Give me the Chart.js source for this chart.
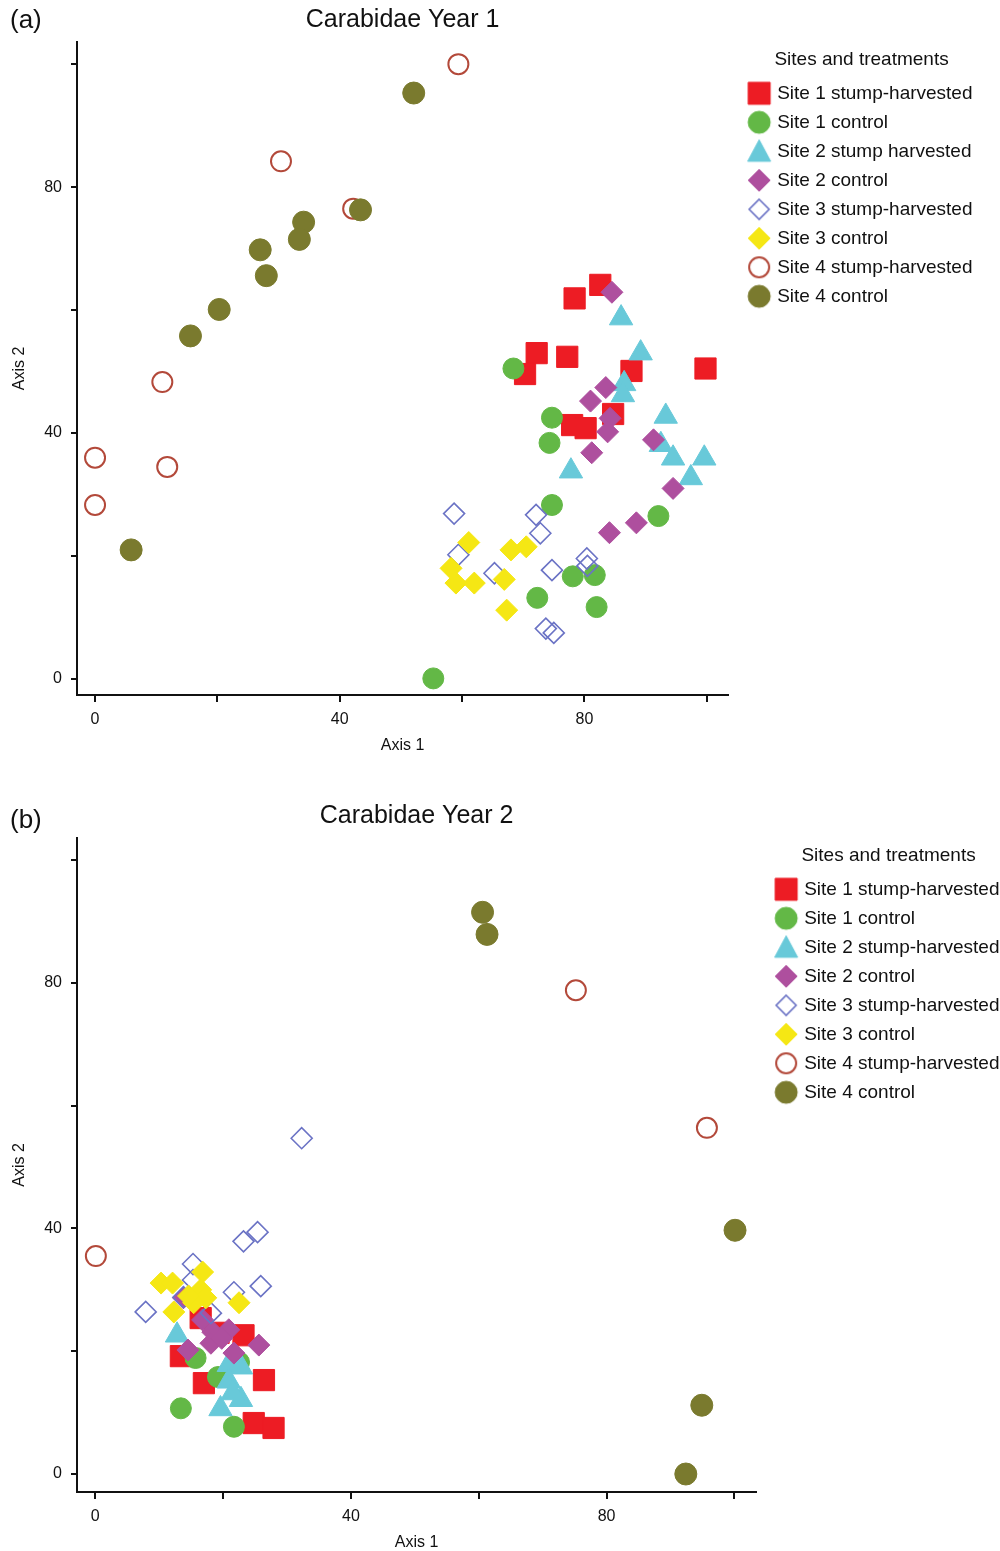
<!DOCTYPE html>
<html>
<head>
<meta charset="utf-8">
<title>Carabidae ordination</title>
<script src="https://cdn.jsdelivr.net/npm/chart.js@4.4.1/dist/chart.umd.min.js"></script>
<style>
  html, body { margin: 0; padding: 0; background: #fff; }
  #wrap { position: relative; width: 1000px; height: 1551px; overflow: hidden; }
  canvas { position: absolute; left: 0; }
  #year1 { top: 0; }
  #year2 { top: 772px; }
</style>
</head>
<body>
<div id="wrap">
  <canvas id="year1" width="1000" height="772"></canvas>
  <canvas id="year2" width="1000" height="779"></canvas>
</div>
<script>
// ---- Series names (legend order) ----
const seriesYear1 = [
  'Site 1 stump-harvested', 'Site 1 control', 'Site 2 stump harvested', 'Site 2 control',
  'Site 3 stump-harvested', 'Site 3 control', 'Site 4 stump-harvested', 'Site 4 control'
];
const seriesYear2 = [
  'Site 1 stump-harvested', 'Site 1 control', 'Site 2 stump-harvested', 'Site 2 control',
  'Site 3 stump-harvested', 'Site 3 control', 'Site 4 stump-harvested', 'Site 4 control'
];

// ---- Axis ticks ----
const tickStep = 20;
const labelledTicks = [0, 40, 80];

// ---- Year 1 ordination scores [Axis 1, Axis 2] ----
const y1Site1Harvested = [[82.6,64.1],[78.4,61.9],[72.2,53.0],[77.2,52.4],[70.3,49.6],[87.7,50.1],[99.8,50.5],[84.7,43.1],[78.0,41.3],[80.2,40.8]];
const y1Site1Control   = [[68.4,50.5],[74.7,42.5],[74.3,38.4],[74.7,28.3],[92.1,26.5],[78.1,16.7],[81.7,16.9],[72.3,13.2],[82.0,11.7],[55.3,0.1]];
const y1Site2Harvested = [[86.0,58.7],[89.2,53.0],[86.5,48.0],[86.3,46.2],[93.3,42.7],[92.5,38.1],[94.5,35.9],[99.6,35.9],[97.4,32.7],[77.8,33.8]];
const y1Site2Control   = [[84.5,62.9],[83.5,47.4],[81.0,45.2],[84.2,42.4],[83.8,40.2],[91.3,38.9],[81.2,36.8],[94.5,31.0],[88.5,25.4],[84.1,23.8]];
const y1Site3Harvested = [[58.7,26.9],[72.1,26.7],[72.8,23.7],[59.4,20.2],[65.3,17.2],[74.7,17.7],[80.4,19.6],[80.5,18.4],[73.7,8.2],[75.0,7.5]];
const y1Site3Control   = [[61.1,22.2],[68.0,21.0],[70.5,21.5],[58.2,18.0],[59.0,15.6],[62.0,15.6],[66.9,16.2],[67.3,11.2]];
const y1Site4Harvested = [[59.4,100.0],[30.4,84.2],[42.2,76.5],[11.0,48.3],[0.0,36.0],[11.8,34.5],[0.0,28.3]];
const y1Site4Control   = [[52.1,95.3],[43.4,76.3],[34.1,74.3],[33.4,71.5],[27.0,69.8],[28.0,65.6],[20.3,60.1],[15.6,55.8],[5.9,21.0]];

// ---- Year 2 ordination scores [Axis 1, Axis 2] ----
const y2Site1Harvested = [[16.5,25.4],[23.2,22.6],[19.3,23.0],[13.4,19.2],[17.0,14.8],[26.4,15.3],[24.8,8.3],[27.9,7.5]];
const y2Site1Control   = [[15.7,18.9],[19.2,15.8],[22.5,18.2],[13.4,10.7],[21.7,7.7]];
const y2Site2Harvested = [[12.8,22.6],[20.9,17.8],[22.8,17.4],[20.9,15.1],[22.8,12.1],[19.6,10.6],[21.5,13.2]];
const y2Site2Control   = [[13.8,28.7],[16.8,25.1],[18.4,23.1],[20.9,23.5],[18.1,21.3],[25.6,21.0],[14.5,20.2],[21.7,19.7],[19.8,22.1]];
const y2Site3Harvested = [[32.3,54.7],[25.4,39.4],[23.2,37.9],[15.3,34.2],[15.3,31.6],[25.9,30.6],[21.7,29.6],[13.8,28.8],[7.9,26.4],[18.1,26.2]];
const y2Site3Control   = [[10.3,31.1],[12.1,31.1],[16.8,32.9],[16.5,30.0],[17.3,28.7],[15.4,27.9],[22.5,27.9],[12.3,26.4],[14.6,29.0]];
const y2Site4Harvested = [[75.2,78.8],[95.7,56.4],[0.1,35.5]];
const y2Site4Control   = [[60.6,91.5],[61.3,87.9],[100.1,39.7],[94.9,11.2],[92.4,0.0]];

const year1Series = [y1Site1Harvested, y1Site1Control, y1Site2Harvested, y1Site2Control,
                     y1Site3Harvested, y1Site3Control, y1Site4Harvested, y1Site4Control];
const year2Series = [y2Site1Harvested, y2Site1Control, y2Site2Harvested, y2Site2Control,
                     y2Site3Harvested, y2Site3Control, y2Site4Harvested, y2Site4Control];

// ---- Marker styles, one per site/treatment ----
const FONT = "'Liberation Sans', Arial, Helvetica, sans-serif";
const INK = '#111';
const markerStyles = [
  { shape: 'rect',     radius: 15,   fill: '#ED1C24', stroke: '#ED1C24', width: 1 },
  { shape: 'circle',   radius: 10.5, fill: '#63B846', stroke: '#63B846', width: 1 },
  { shape: 'triangle', radius: 13.5, fill: '#68C9D9', stroke: '#68C9D9', width: 1 },
  { shape: 'rectRot',  radius: 11,   fill: '#AE4F9E', stroke: '#AE4F9E', width: 1 },
  { shape: 'rectRot',  radius: 10.5, fill: 'rgba(255,255,255,0)', stroke: '#6B73C5', width: 1.6 },
  { shape: 'rectRot',  radius: 11,   fill: '#F5E714', stroke: '#F5E714', width: 1 },
  { shape: 'circle',   radius: 10,   fill: 'rgba(255,255,255,0)', stroke: '#B3493A', width: 2 },
  { shape: 'circle',   radius: 11,   fill: '#7A7A2E', stroke: '#7A7A2E', width: 1 }
];

// Small bitmaps used as legend swatches, so every swatch is the same size
function legendSwatch(style) {
  const c = document.createElement('canvas');
  c.width = 26; c.height = 26;
  const g = c.getContext('2d');
  const m = 13;
  const open = style.fill.indexOf('rgba') === 0;
  g.beginPath();
  if (style.shape === 'rect') {
    g.rect(m - 11, m - 11, 22, 22);
  } else if (style.shape === 'circle') {
    g.arc(m, m, open ? 10 : 11, 0, Math.PI * 2);
  } else if (style.shape === 'triangle') {
    g.moveTo(m, m - 11.5); g.lineTo(m + 11.5, m + 10); g.lineTo(m - 11.5, m + 10); g.closePath();
  } else {
    const h = open ? 10 : 11;
    g.moveTo(m, m - h); g.lineTo(m + h, m); g.lineTo(m, m + h); g.lineTo(m - h, m); g.closePath();
  }
  if (!open) { g.fillStyle = style.fill; g.fill(); }
  g.lineWidth = open ? style.width : 1;
  g.strokeStyle = style.stroke;
  g.stroke();
  return c;
}
const legendSwatches = markerStyles.map(legendSwatch);

// Panel letter and chart heading, centred over the plotting area
const panelHeading = {
  id: 'panelHeading',
  afterDraw(chart, args, opts) {
    const { ctx, chartArea } = chart;
    ctx.save();
    ctx.fillStyle = INK;
    ctx.textBaseline = 'middle';
    ctx.textAlign = 'left';
    ctx.font = '26px ' + FONT;
    ctx.fillText(opts.tag, 10, opts.tagY);
    ctx.textAlign = 'center';
    ctx.font = '25px ' + FONT;
    ctx.fillText(opts.text, (chartArea.left + chartArea.right) / 2, opts.titleY);
    ctx.restore();
  }
};

// Leaves a small gap between the plotting area and the legend
const legendGap = {
  id: 'legendGap',
  afterLayout(chart, args, opts) {
    const lg = chart.legend;
    if (!lg) return;
    const left = chart.chartArea.right + opts.gap;
    lg.left = left;
    lg.right = left + lg.width;
  }
};

function axis(title, range, fitSize, horizontal, tickLen, tickPad, titlePad) {
  return {
    type: 'linear',
    position: horizontal ? 'bottom' : 'left',
    min: range[0],
    max: range[1],
    afterFit(scale) {
      if (horizontal) scale.height = fitSize; else scale.width = fitSize;
    },
    ticks: {
      stepSize: tickStep,
      includeBounds: false,
      autoSkip: false,
      maxRotation: 0,
      padding: tickPad,
      color: INK,
      font: { family: FONT, size: 16 },
      callback: v => labelledTicks.includes(v) ? String(v) : ''
    },
    grid: {
      display: true,
      drawOnChartArea: false,
      drawTicks: true,
      tickLength: tickLen,
      color: INK,
      lineWidth: 2
    },
    border: { display: true, color: INK, width: 2 },
    title: {
      display: true,
      text: title,
      color: INK,
      font: { family: FONT, size: 16, lineHeight: 1 },
      padding: titlePad
    }
  };
}

function buildPanel(canvasId, names, series, cfg) {
  const datasets = series.map((pts, i) => {
    const s = markerStyles[i];
    return {
      label: names[i],
      data: pts.map(p => ({ x: p[0], y: p[1] })),
      pointStyle: s.shape,
      pointRadius: s.radius,
      pointHoverRadius: s.radius,
      backgroundColor: s.fill,
      borderColor: s.stroke,
      borderWidth: s.width,
      order: series.length - i
    };
  });
  return new Chart(document.getElementById(canvasId), {
    type: 'scatter',
    data: { datasets },
    plugins: [panelHeading, legendGap],
    options: {
      responsive: false,
      animation: false,
      events: [],
      layout: { padding: cfg.padding },
      scales: {
        x: axis('Axis 1', cfg.xRange, 59, true, 7, 8, { top: 0, bottom: 0 }),
        y: axis('Axis 2', cfg.yRange, 77, false, 6, 9, { top: 12, bottom: 0 })
      },
      plugins: {
        tooltip: { enabled: false },
        panelHeading: { tag: cfg.tag, text: cfg.heading, titleY: cfg.titleY, tagY: cfg.tagY },
        legendGap: { gap: cfg.legendGap },
        legend: {
          display: true,
          position: 'right',
          align: 'start',
          maxWidth: 400,
          title: {
            display: true,
            text: 'Sites and treatments',
            color: INK,
            font: { family: FONT, size: 19 },
            padding: { top: 8, bottom: 1 }
          },
          labels: {
            usePointStyle: true,
            pointStyleWidth: 17,
            padding: 10,
            color: INK,
            font: { family: FONT, size: 19 },
            generateLabels: () => names.map((name, i) => ({
              text: name,
              pointStyle: legendSwatches[i],
              fillStyle: markerStyles[i].fill,
              strokeStyle: markerStyles[i].stroke,
              lineWidth: 0,
              hidden: false,
              datasetIndex: i
            }))
          }
        }
      }
    }
  });
}

buildPanel('year1', seriesYear1, year1Series, {
  tag: '(a)', heading: 'Carabidae Year 1', titleY: 20, tagY: 21,
  xRange: [-2.95, 103.5], yRange: [-2.6, 103.6],
  padding: { top: 42, bottom: 18, left: 0, right: 30 },
  legendGap: 12.5
});

buildPanel('year2', seriesYear2, year2Series, {
  tag: '(b)', heading: 'Carabidae Year 2', titleY: 44, tagY: 49,
  xRange: [-2.85, 103.4], yRange: [-2.93, 103.6],
  padding: { top: 66, bottom: 0, left: 0, right: 2 },
  legendGap: 11.5
});
</script>
</body>
</html>
